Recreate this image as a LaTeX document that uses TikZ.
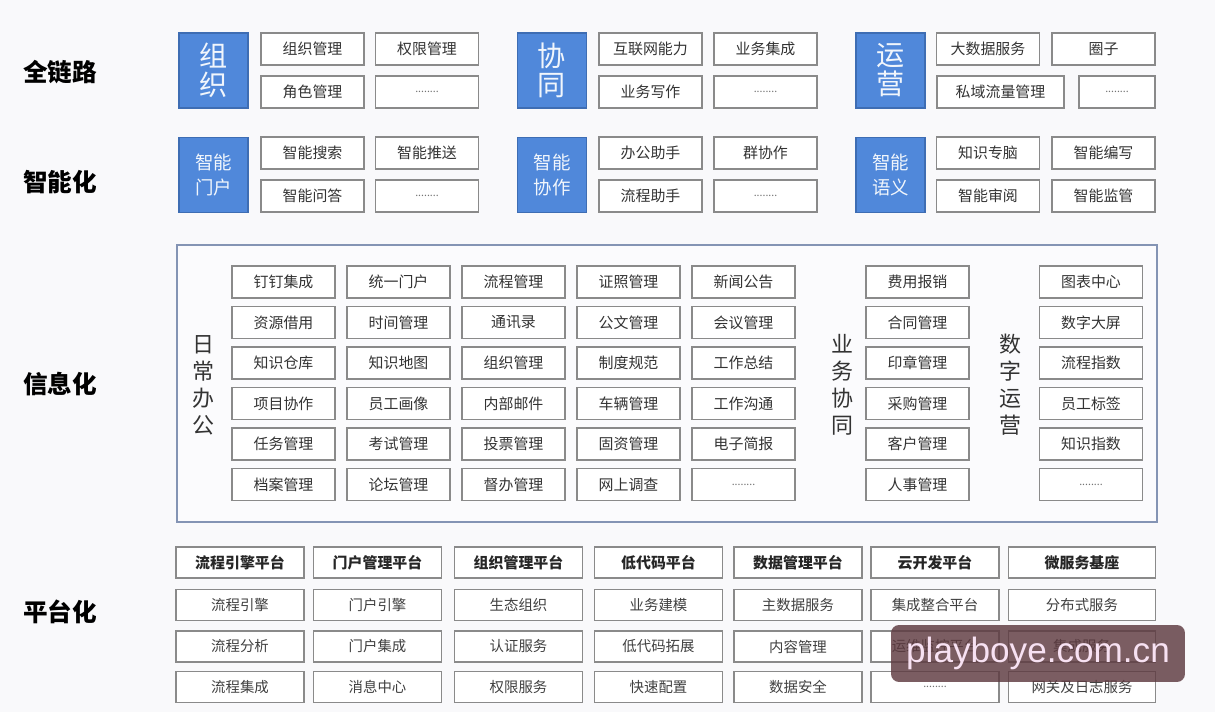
\documentclass[tikz,border=0pt]{standalone}
\usepackage{fontspec}
\setmainfont{Noto Sans CJK SC}
\newfontfamily\wmfont{Liberation Sans}

\definecolor{boxgray}{HTML}{8A8A8A}
\definecolor{blockblue}{HTML}{5088DA}
\definecolor{blockedge}{HTML}{3E6DB3}
\definecolor{framegray}{HTML}{8494B4}
\definecolor{pagebg}{HTML}{F9F9FB}
\definecolor{inktext}{HTML}{333333}
\definecolor{wmred}{HTML}{5E3A40}
\definecolor{wmtext}{HTML}{F7E1F2}

\newcommand\moredots{\textcolor{black!55}{\fontsize{6}{6}\selectfont ........}}

\begin{document}
\begin{tikzpicture}[x=0.02cm, y=-0.02cm,
    item/.style={draw=boxgray, line width=0.85pt, fill=white, inner sep=0pt,
      minimum width=2.06cm, minimum height=0.64cm, text=inktext,
      font=\fontsize{8.5}{10}\selectfont},
    wideitem/.style={item, minimum width=2.54cm},
    narrowitem/.style={item, minimum width=1.52cm},
    block/.style={draw=blockedge, line width=0.85pt, fill=blockblue, inner sep=0pt,
      minimum width=1.38cm, minimum height=1.5cm, align=center, text=white!92!blockblue,
      font=\fontsize{16}{16.5}\selectfont},
    smallblock/.style={block, font=\fontsize{10.5}{14.2}\selectfont},
    level/.style={font=\fontsize{14}{16}\selectfont\bfseries, text=black},
    vlabel/.style={align=center, inner sep=0pt, text=inktext,
      font=\fontsize{12.5}{15.4}\selectfont},
    frame/.style={draw=framegray, line width=0.85pt, fill=white!40!pagebg, inner sep=0pt,
      minimum width=19.6cm, minimum height=5.54cm},
    base/.style={item, minimum width=2.56cm, minimum height=0.62cm,
      font=\fontsize{8.2}{10}\selectfont, text=black!75},
    basehead/.style={base, font=\fontsize{8.5}{10}\selectfont\bfseries, text=black!85},
    watermark/.style={fill=wmred, fill opacity=0.82, text opacity=1, rounded corners=0.16cm,
      minimum width=5.88cm, minimum height=1.14cm, inner sep=0pt, text=wmtext,
      font=\wmfont\fontsize{20}{22}\selectfont}]

    \fill[pagebg] (0,0) rectangle (1215,712);
    \useasboundingbox (0,0) rectangle (1215,712);

    \node[level] (lvChain) at (60,72) {全链路};
    \node[level] (lvSmart) at (60,182) {智能化};
    \node[level] (lvInfo) at (60,384) {信息化};
    \node[level] (lvPlat) at (60,612) {平台化};

    \node[block] (org) at (213.5,70.5) {组\\织};
    \node[item] (orgMgr) at (312.5,49) {组织管理};
    \node[item] (permMgr) at (427,49) {权限管理};
    \node[item] (roleMgr) at (312.5,92) {角色管理};
    \node[item] (orgMore) at (427,92) {\moredots};

    \node[block] (coop) at (552,70.5) {协\\同};
    \node[item] (netAbility) at (650.5,49) {互联网能力};
    \node[item] (bizInteg) at (765.5,49) {业务集成};
    \node[item] (bizWrite) at (650.5,92) {业务写作};
    \node[item] (coopMore) at (765.5,92) {\moredots};

    \node[block] (ops) at (890.5,70.5) {运\\营};
    \node[item] (bigData) at (988,49) {大数据服务};
    \node[item] (circle) at (1103.5,49) {圈子};
    \node[wideitem] (privTraffic) at (1000.5,92) {私域流量管理};
    \node[narrowitem] (opsMore) at (1117,92) {\moredots};

    \node[smallblock] (portal) at (213.5,175) {智能\\门户};
    \node[item] (search) at (312.5,153) {智能搜索};
    \node[item] (push) at (427,153) {智能推送};
    \node[item] (qa) at (312.5,196) {智能问答};
    \node[item] (portalMore) at (427,196) {\moredots};

    \node[smallblock] (collab) at (552,175) {智能\\协作};
    \node[item] (officeAide) at (650.5,153) {办公助手};
    \node[item] (groupWork) at (765.5,153) {群协作};
    \node[item] (flowAide) at (650.5,196) {流程助手};
    \node[item] (collabMore) at (765.5,196) {\moredots};

    \node[smallblock] (semantic) at (890.5,175) {智能\\语义};
    \node[item] (brain) at (988,153) {知识专脑};
    \node[item] (compose) at (1103.5,153) {智能编写};
    \node[item] (review) at (988,196) {智能审阅};
    \node[item] (monitor) at (1103.5,196) {智能监管};

    \node[frame] (infoFrame) at (667,383.5) {};
    \node[vlabel] (daily) at (203,385) {日\\常\\办\\公};
    \node[vlabel] (business) at (842,385) {业\\务\\协\\同};
    \node[vlabel] (digital) at (1010,385) {数\\字\\运\\营};

    \node[item] (day11) at (283.5,282) {钉钉集成};
    \node[item] (day12) at (398.5,282) {统一门户};
    \node[item] (day13) at (513.5,282) {流程管理};
    \node[item] (day14) at (628.5,282) {证照管理};
    \node[item] (day15) at (743.5,282) {新闻公告};
    \node[item] (day21) at (283.5,322.5) {资源借用};
    \node[item] (day22) at (398.5,322.5) {时间管理};
    \node[item] (day23) at (513.5,322.5) {通讯录};
    \node[item] (day24) at (628.5,322.5) {公文管理};
    \node[item] (day25) at (743.5,322.5) {会议管理};
    \node[item] (day31) at (283.5,363) {知识仓库};
    \node[item] (day32) at (398.5,363) {知识地图};
    \node[item] (day33) at (513.5,363) {组织管理};
    \node[item] (day34) at (628.5,363) {制度规范};
    \node[item] (day35) at (743.5,363) {工作总结};
    \node[item] (day41) at (283.5,403.5) {项目协作};
    \node[item] (day42) at (398.5,403.5) {员工画像};
    \node[item] (day43) at (513.5,403.5) {内部邮件};
    \node[item] (day44) at (628.5,403.5) {车辆管理};
    \node[item] (day45) at (743.5,403.5) {工作沟通};
    \node[item] (day51) at (283.5,444) {任务管理};
    \node[item] (day52) at (398.5,444) {考试管理};
    \node[item] (day53) at (513.5,444) {投票管理};
    \node[item] (day54) at (628.5,444) {固资管理};
    \node[item] (day55) at (743.5,444) {电子简报};
    \node[item] (day61) at (283.5,484.5) {档案管理};
    \node[item] (day62) at (398.5,484.5) {论坛管理};
    \node[item] (day63) at (513.5,484.5) {督办管理};
    \node[item] (day64) at (628.5,484.5) {网上调查};
    \node[item] (day65) at (743.5,484.5) {\moredots};

    \node[item] (biz1) at (917.5,282) {费用报销};
    \node[item] (biz2) at (917.5,322.5) {合同管理};
    \node[item] (biz3) at (917.5,363) {印章管理};
    \node[item] (biz4) at (917.5,403.5) {采购管理};
    \node[item] (biz5) at (917.5,444) {客户管理};
    \node[item] (biz6) at (917.5,484.5) {人事管理};

    \node[item] (dig1) at (1091,282) {图表中心};
    \node[item] (dig2) at (1091,322.5) {数字大屏};
    \node[item] (dig3) at (1091,363) {流程指数};
    \node[item] (dig4) at (1091,403.5) {员工标签};
    \node[item] (dig5) at (1091,444) {知识指数};
    \node[item] (dig6) at (1091,484.5) {\moredots};

    \node[basehead] (flowPf) at (240,562.5) {流程引擎平台};
    \node[basehead] (portalPf) at (377.5,562.5) {门户管理平台};
    \node[basehead] (orgPf) at (518.5,562.5) {组织管理平台};
    \node[basehead] (lowPf) at (658.5,562.5) {低代码平台};
    \node[basehead] (dataPf) at (798,562.5) {数据管理平台};
    \node[basehead] (cloudPf) at (935,562.5) {云开发平台};
    \node[basehead, minimum width=2.94cm] (microPf) at (1082,562.5) {微服务基座};

    \node[base] (flow1) at (240,605) {流程引擎};
    \node[base] (flow2) at (240,646.5) {流程分析};
    \node[base] (flow3) at (240,687) {流程集成};
    \node[base] (portal1) at (377.5,605) {门户引擎};
    \node[base] (portal2) at (377.5,646.5) {门户集成};
    \node[base] (portal3) at (377.5,687) {消息中心};
    \node[base] (org1) at (518.5,605) {生态组织};
    \node[base] (org2) at (518.5,646.5) {认证服务};
    \node[base] (org3) at (518.5,687) {权限服务};
    \node[base] (low1) at (658.5,605) {业务建模};
    \node[base] (low2) at (658.5,646.5) {低代码拓展};
    \node[base] (low3) at (658.5,687) {快速配置};
    \node[base] (data1) at (798,605) {主数据服务};
    \node[base] (data2) at (798,646.5) {内容管理};
    \node[base] (data3) at (798,687) {数据安全};
    \node[base] (cloud1) at (935,605) {集成整合平台};
    \node[base] (cloud2) at (935,646.5) {运维监控平台};
    \node[base] (cloud3) at (935,687) {\moredots};
    \node[base, minimum width=2.94cm] (micro1) at (1082,605) {分布式服务};
    \node[base, minimum width=2.94cm] (micro2) at (1082,646.5) {集成服务};
    \node[base, minimum width=2.94cm] (micro3) at (1082,687) {网关及日志服务};

    \node[watermark] (wm) at (1038,653.5) {playboye.com.cn};
\end{tikzpicture}
\end{document}
